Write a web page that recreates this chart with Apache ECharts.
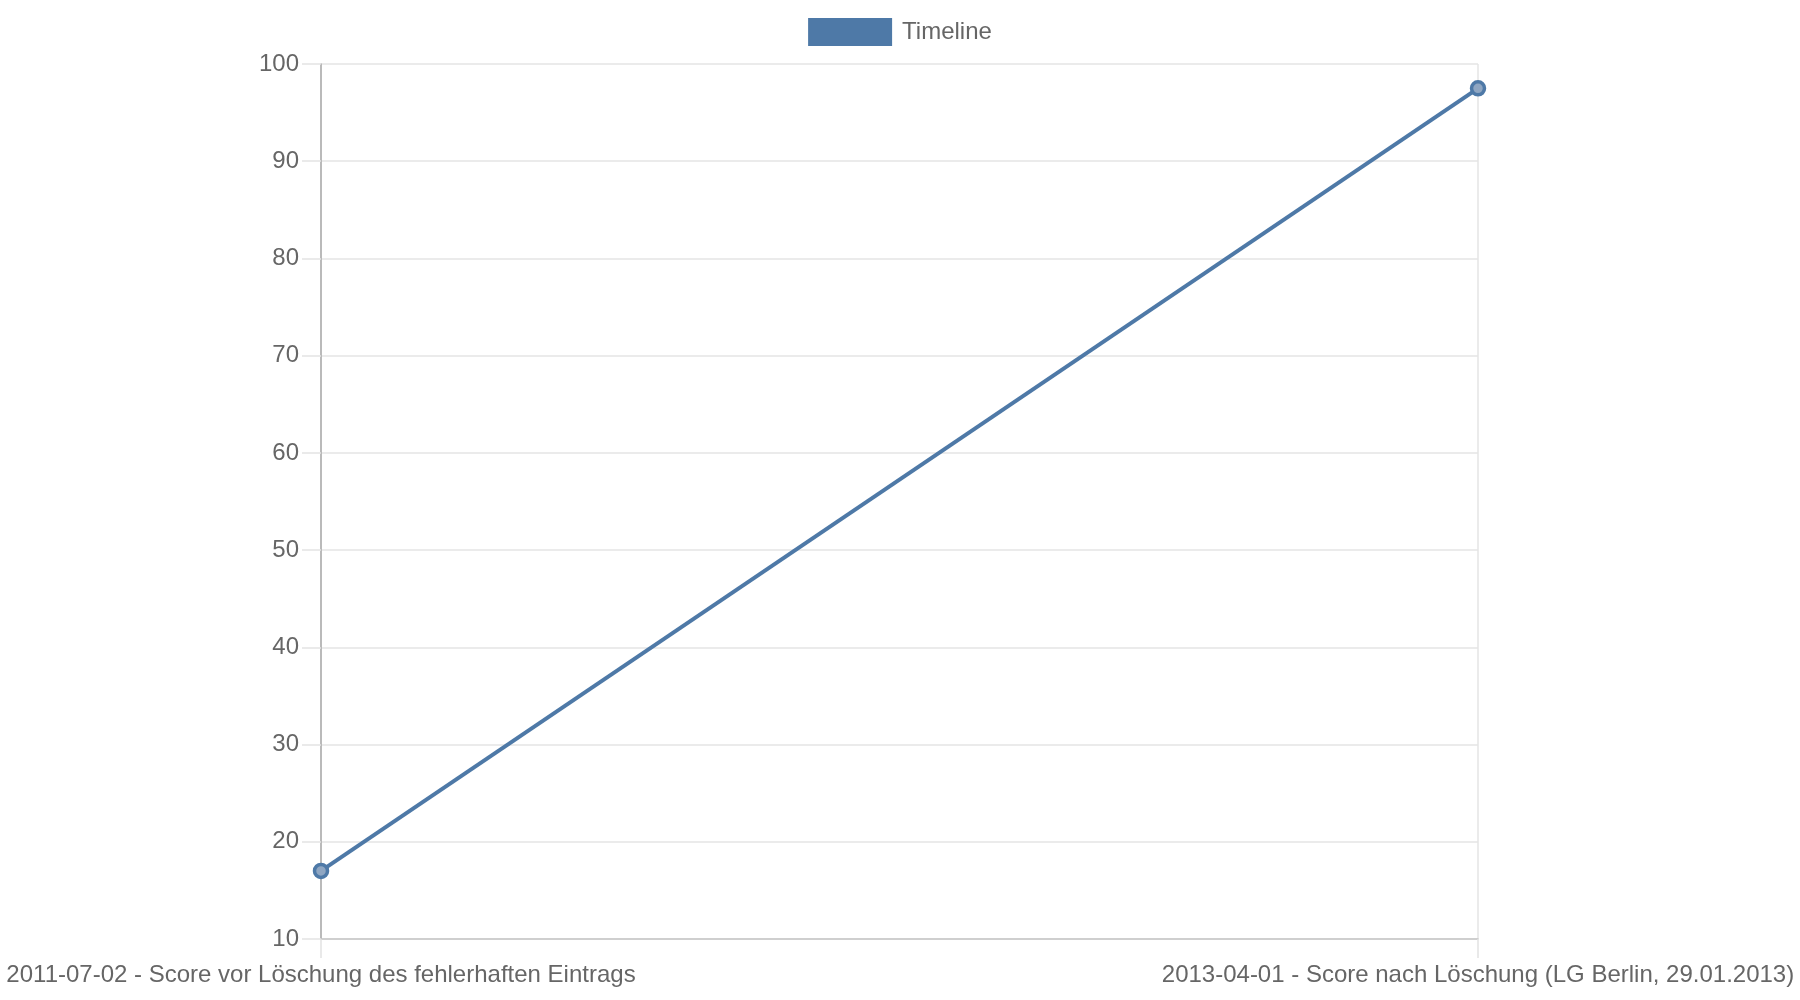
<!DOCTYPE html>
<html>
<head>
<meta charset="utf-8">
<script src="https://cdn.jsdelivr.net/npm/echarts@6/dist/echarts.min.js"></script>
<style>
html,body{margin:0;padding:0;background:#fff;}
#chart{width:1800px;height:1000px;}
</style>
</head>
<body>
<div id="chart"></div>
<script>
const categories = [
  "2011-07-02 - Score vor Löschung des fehlerhaften Eintrags",
  "2013-04-01 - Score nach Löschung (LG Berlin, 29.01.2013)"
];
const seriesName = "Timeline";
const scores = [17, 97.5];
const yMin = 10, yMax = 100, yStep = 10;

const FONT = "'Liberation Sans', Arial, Helvetica, sans-serif";
const chart = echarts.init(document.getElementById('chart'), null, {renderer: 'canvas'});
chart.setOption({
  animation: false,
  backgroundColor: '#ffffff',
  textStyle: {fontFamily: FONT},
  legend: {
    top: 13,
    left: 'center',
    itemWidth: 84,
    itemHeight: 28,
    icon: 'rect',
    itemGap: 10,
    textStyle: {fontSize: 24, color: '#666666', fontFamily: FONT, padding: [0, 0, 0, 5]},
    data: [{name: seriesName, icon: 'rect', itemStyle: {color: '#4e79a7', borderWidth: 0}}]
  },
  grid: {left: 321, right: 322, top: 64, bottom: 61, containLabel: false},
  xAxis: {
    type: 'category',
    data: categories,
    boundaryGap: false,
    axisLine: {show: true, lineStyle: {color: '#c6c6c6', width: 1.5}},
    axisTick: {show: true, length: 19, alignWithLabel: true, lineStyle: {color: '#e2e2e2', width: 1.5}},
    splitLine: {show: true, lineStyle: {color: '#e4e4e4', width: 1.5}},
    axisLabel: {interval: 0, margin: 24, fontSize: 24, color: '#666666', fontFamily: FONT}
  },
  yAxis: {
    type: 'value',
    min: yMin, max: yMax, interval: yStep,
    axisLine: {show: true, lineStyle: {color: '#aaaaaa', width: 1.5}},
    axisTick: {show: true, length: 19, lineStyle: {color: '#e4e4e4', width: 1.5}},
    splitLine: {show: true, lineStyle: {color: '#e4e4e4', width: 1.5}},
    axisLabel: {margin: 22, fontSize: 24, color: '#666666', fontFamily: FONT}
  },
  series: [{
    name: seriesName,
    type: 'line',
    data: scores,
    symbol: 'circle',
    symbolSize: 13,
    showSymbol: true,
    lineStyle: {color: '#4e79a7', width: 4},
    itemStyle: {color: '#8fa6c2', borderColor: '#4e79a7', borderWidth: 3.5},
    z: 5
  }]
});
</script>
</body>
</html>
